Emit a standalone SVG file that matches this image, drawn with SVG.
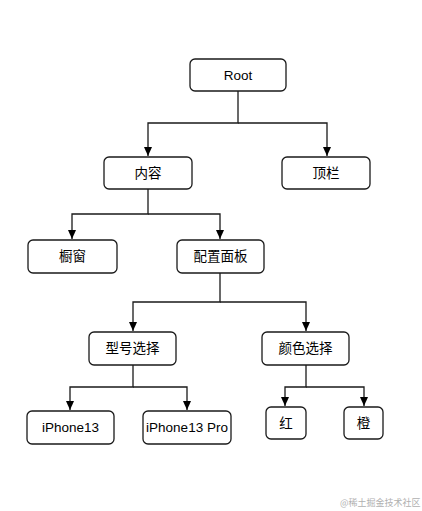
<svg xmlns="http://www.w3.org/2000/svg" width="422" height="511" viewBox="0 0 422 511">
<style>
.n rect{fill:#fff;stroke:#1a1a1a;stroke-width:1.3}
.n text{font-family:"Liberation Sans","Noto Sans CJK SC",sans-serif;font-size:13.5px;fill:#000;text-anchor:middle;dominant-baseline:central}
.c path{fill:none;stroke:#1a1a1a;stroke-width:1.3}
.wm{font-family:"Noto Sans CJK SC",sans-serif;font-size:9px;fill:#b0b0b0}
</style>
<defs>
<marker id="ah" viewBox="0 0 10 10" refX="10" refY="5" markerWidth="9" markerHeight="8" markerUnits="userSpaceOnUse" orient="auto" preserveAspectRatio="none">
<path d="M0,0 L10,5 L0,10 Z" fill="#000"/>
</marker>
</defs>
<rect width="422" height="511" fill="#fff"/>
<g class="c">
<path d="M238,91 V123 H148 V156" marker-end="url(#ah)"/>
<path d="M238,123 H327 V156" marker-end="url(#ah)"/>
<path d="M148,189 V214 H72 V239" marker-end="url(#ah)"/>
<path d="M148,214 H220 V239" marker-end="url(#ah)"/>
<path d="M220,273 V302 H133 V331" marker-end="url(#ah)"/>
<path d="M220,302 H306 V331" marker-end="url(#ah)"/>
<path d="M133,365 V387 H70 V410" marker-end="url(#ah)"/>
<path d="M133,387 H187 V410" marker-end="url(#ah)"/>
<path d="M306,365 V387 H285 V406" marker-end="url(#ah)"/>
<path d="M306,387 H364 V406" marker-end="url(#ah)"/>
</g>
<g id="root" class="n"><rect x="190" y="59" width="96" height="32" rx="5"/><text x="238" y="75">Root</text></g>
<g id="neirong" class="n"><rect x="104" y="157" width="88" height="32" rx="5"/><text x="148" y="173">内容</text></g>
<g id="dinglan" class="n"><rect x="282" y="157" width="88" height="32" rx="5"/><text x="326" y="173">顶栏</text></g>
<g id="chuchuang" class="n"><rect x="28" y="240" width="89" height="33" rx="5"/><text x="72.5" y="256.5">橱窗</text></g>
<g id="peizhi" class="n"><rect x="177" y="240" width="87" height="33" rx="5"/><text x="220.5" y="256.5">配置面板</text></g>
<g id="xinghao" class="n"><rect x="89" y="332" width="87" height="33" rx="5"/><text x="132.5" y="348.5">型号选择</text></g>
<g id="yanse" class="n"><rect x="262" y="332" width="87" height="33" rx="5"/><text x="305.5" y="348.5">颜色选择</text></g>
<g id="iphone13" class="n"><rect x="27" y="411" width="87" height="33" rx="5"/><text x="70.5" y="427.5">iPhone13</text></g>
<g id="iphone13pro" class="n"><rect x="143" y="411" width="88" height="33" rx="5"/><text x="187" y="427.5">iPhone13 Pro</text></g>
<g id="hong" class="n"><rect x="266" y="407" width="40" height="32" rx="5"/><text x="286" y="423">红</text></g>
<g id="cheng" class="n"><rect x="344" y="407" width="39" height="32" rx="5"/><text x="363.5" y="423">橙</text></g>
<text class="wm" x="340" y="506">@稀土掘金技术社区</text>
</svg>
